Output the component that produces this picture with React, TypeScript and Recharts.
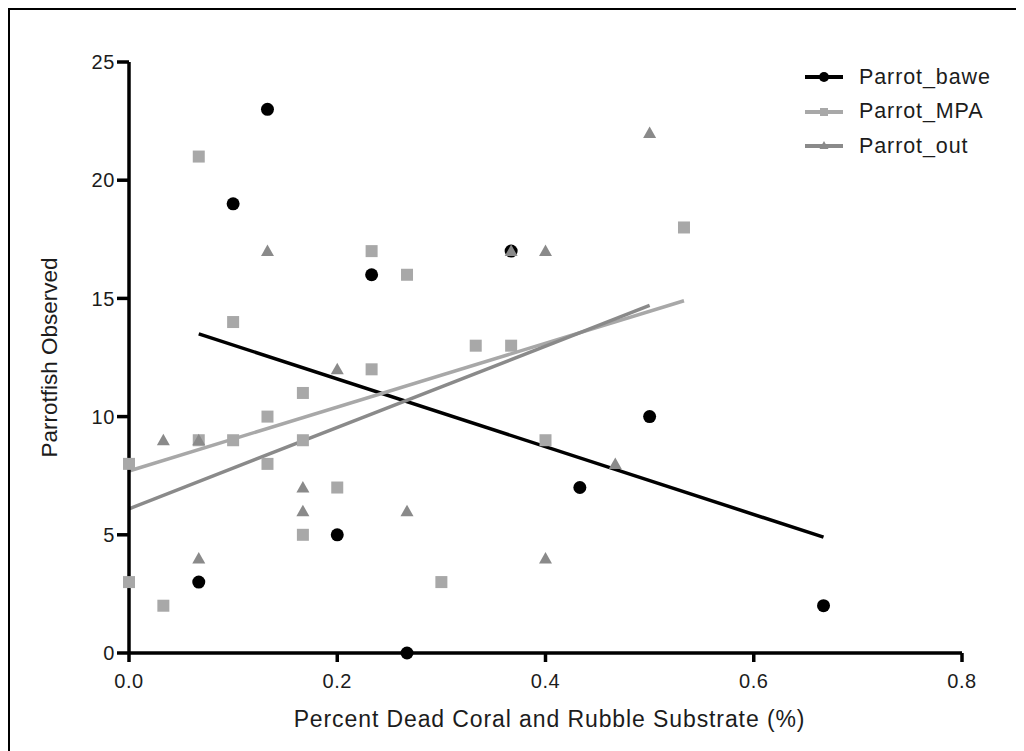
import { ScatterChart, Scatter, XAxis, YAxis, ReferenceLine, Legend } from 'recharts';

// x = percent dead coral/rubble, y = parrotfish counts
const baweX = [0.133, 0.1, 0.233, 0.367, 0.5, 0.433, 0.2, 0.067, 0.267, 0.667];
const baweY = [23, 19, 16, 17, 10, 7, 5, 3, 0, 2];

const mpaX = [0.067, 0.1, 0.233, 0.267, 0.533, 0.333, 0.367, 0.233, 0.167, 0.133, 0.067, 0.1, 0.167, 0, 0.133, 0.2, 0.167, 0.4, 0, 0.033, 0.3];
const mpaY = [21, 14, 17, 16, 18, 13, 13, 12, 11, 10, 9, 9, 9, 8, 8, 7, 5, 9, 3, 2, 3];

const outX = [0.5, 0.133, 0.367, 0.4, 0.2, 0.033, 0.067, 0.167, 0.167, 0.267, 0.067, 0.4, 0.467];
const outY = [22, 17, 17, 17, 12, 9, 9, 7, 6, 6, 4, 4, 8];

// linear fit end points
const baweFit = [{ x: 0.067, y: 13.5 }, { x: 0.667, y: 4.9 }];
const mpaFit = [{ x: 0, y: 7.7 }, { x: 0.533, y: 14.9 }];
const outFit = [{ x: 0, y: 6.1 }, { x: 0.5, y: 14.7 }];

const xTicks = [0, 0.2, 0.4, 0.6, 0.8];
const yTicks = [0, 5, 10, 15, 20, 25];

const seriesNames = ['Parrot_bawe', 'Parrot_MPA', 'Parrot_out'];

const FONT = '"Liberation Sans", Arial, Helvetica, sans-serif';
const TEXT = '#1c1c1c';
const BLACK = '#000';
const MPA_GREY = '#a8a8a8';
const OUT_GREY = '#8a8a8a';

const toPoints = (xs: number[], ys: number[]) => xs.map((x, i) => ({ x, y: ys[i] }));

const baweData = toPoints(baweX, baweY);
const mpaData = toPoints(mpaX, mpaY);
const outData = toPoints(outX, outY);

const CircleMark = (p: any) => <circle cx={p.cx} cy={p.cy} r={6.5} fill={BLACK} />;
const SquareMark = (p: any) => (
    <rect x={p.cx - 6} y={p.cy - 6} width={12} height={12} fill={MPA_GREY} />
);
const TriangleMark = (p: any) => (
    <polygon
        points={`${p.cx},${p.cy - 6.5} ${p.cx + 6.5},${p.cy + 5} ${p.cx - 6.5},${p.cy + 5}`}
        fill={OUT_GREY}
    />
);

function renderLegend() {
    const colors = [BLACK, MPA_GREY, OUT_GREY];
    return (
        <div style={{ fontFamily: FONT, fontSize: 21.5, letterSpacing: 0.9, color: TEXT }}>
            {seriesNames.map((name, i) => (
                <div key={name} style={{ display: 'flex', alignItems: 'center', height: 34.5 }}>
                    <svg width={38} height={20}>
                        <line x1={0} y1={10} x2={38} y2={10} stroke={colors[i]} strokeWidth={4} />
                        {i === 0 && <circle cx={19} cy={10} r={5} fill={colors[i]} />}
                        {i === 1 && <rect x={15} y={6} width={8} height={8} fill={colors[i]} />}
                        {i === 2 && <polygon points="19,5 23.5,13 14.5,13" fill={colors[i]} />}
                    </svg>
                    <span style={{ marginLeft: 16 }}>{name}</span>
                </div>
            ))}
        </div>
    );
}

export default function App() {
    return (
        <div style={{ position: 'relative', width: 1016, height: 743, fontFamily: FONT }}>
            <ScatterChart width={1016} height={743} margin={{ top: 54, right: 62, bottom: 0, left: 0 }}>
                <XAxis
                    type="number"
                    dataKey="x"
                    domain={[0, 0.8]}
                    ticks={xTicks}
                    interval={0}
                    tickFormatter={(v: number) => v.toFixed(1)}
                    height={98}
                    axisLine={{ stroke: BLACK, strokeWidth: 3.5 }}
                    tickLine={{ stroke: BLACK, strokeWidth: 3.5 }}
                    tickSize={9}
                    tickMargin={12}
                    tick={{ fill: TEXT, fontSize: 20, fontFamily: FONT, letterSpacing: 0.6 }}
                    label={({ viewBox }: any) => (
                        <text
                            x={viewBox.x + viewBox.width / 2 + 4}
                            y={viewBox.y + 74}
                            textAnchor="middle"
                            fill={TEXT}
                            fontSize={23}
                            fontFamily={FONT}
                            letterSpacing={0.9}
                        >
                            Percent Dead Coral and Rubble Substrate (%)
                        </text>
                    )}
                />
                <YAxis
                    type="number"
                    dataKey="y"
                    domain={[0, 25]}
                    ticks={yTicks}
                    interval={0}
                    width={121}
                    axisLine={{ stroke: BLACK, strokeWidth: 3.5 }}
                    tickLine={{ stroke: BLACK, strokeWidth: 3.5 }}
                    tickSize={12}
                    tickMargin={2}
                    tick={{ fill: TEXT, fontSize: 20, fontFamily: FONT, letterSpacing: 0.6 }}
                    label={({ viewBox }: any) => {
                        const cx = viewBox.x + 49;
                        const cy = viewBox.y + viewBox.height / 2;
                        return (
                            <text
                                x={cx}
                                y={cy}
                                transform={`rotate(-90, ${cx}, ${cy})`}
                                textAnchor="middle"
                                fill={TEXT}
                                fontSize={22.5}
                                fontFamily={FONT}
                            >
                                Parrotfish Observed
                            </text>
                        );
                    }}
                />
                <Legend
                    layout="vertical"
                    align="center"
                    verticalAlign="middle"
                    content={renderLegend}
                    wrapperStyle={{ left: 797, top: 52, width: 230, height: 'auto' }}
                />
                <ReferenceLine segment={baweFit} stroke={BLACK} strokeWidth={3.5} ifOverflow="visible" />
                <ReferenceLine segment={mpaFit} stroke={MPA_GREY} strokeWidth={3.5} ifOverflow="visible" />
                <ReferenceLine segment={outFit} stroke={OUT_GREY} strokeWidth={3.5} ifOverflow="visible" />
                <Scatter name={seriesNames[0]} data={baweData} shape={CircleMark} isAnimationActive={false} />
                <Scatter name={seriesNames[1]} data={mpaData} shape={SquareMark} isAnimationActive={false} />
                <Scatter name={seriesNames[2]} data={outData} shape={TriangleMark} isAnimationActive={false} />
            </ScatterChart>
            <div
                style={{
                    position: 'absolute',
                    left: 0,
                    top: 0,
                    width: 1016,
                    height: 743,
                    boxSizing: 'border-box',
                    borderTop: '2px solid #000',
                    borderLeft: '2px solid #000',
                    pointerEvents: 'none',
                }}
            />
        </div>
    );
}
